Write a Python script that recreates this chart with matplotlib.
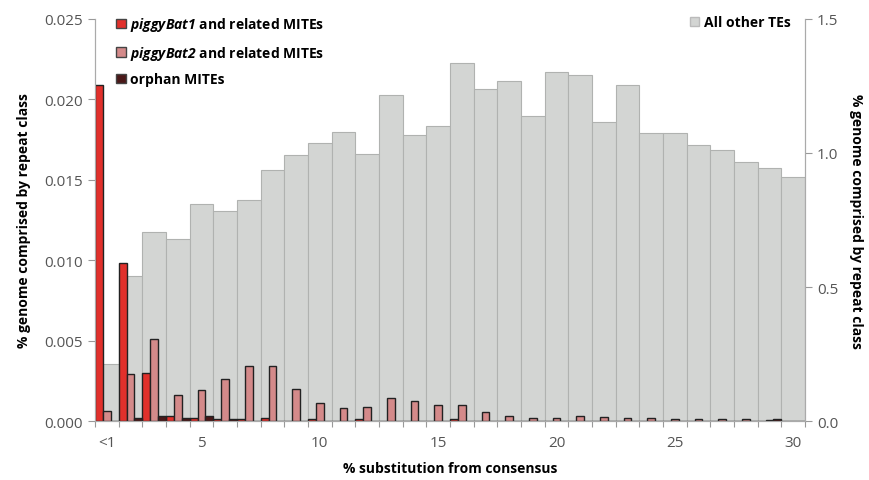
import numpy as np
import matplotlib
matplotlib.use("Agg")
import matplotlib.pyplot as plt
from matplotlib.patches import Patch

plt.rcParams['font.family'] = ['Open Sans', 'DejaVu Sans']
plt.rcParams['mathtext.fontset'] = 'custom'
plt.rcParams['mathtext.it'] = 'Open Sans:italic:bold'
plt.rcParams['mathtext.rm'] = 'Open Sans:italic:bold'

# substitution bins: "<1", 2, 3, ... 30
bins = list(range(1, 31))
tick_labels = {1: '<1', 5: '5', 10: '10', 15: '15', 20: '20', 25: '25', 30: '30'}

# % genome, left axis
piggybat1 = [0.0209, 0.0098, 0.0030, 0.0003, 0.0002, 0.0001, 0.0001, 0.0002, 0.0,
             0.0001, 0.0, 0.0001, 0.0, 0.0, 0.0, 0.0001, 0.0, 0.0, 0.0, 0.0,
             0.0, 0.0, 0.0, 0.0, 0.0, 0.0, 0.0, 0.0, 0.0, 0.0]
piggybat2 = [0.00065, 0.0029, 0.0051, 0.0016, 0.0019, 0.0026, 0.0034, 0.0034, 0.0020,
             0.0011, 0.0008, 0.00085, 0.0014, 0.00126, 0.0010, 0.0010, 0.00054, 0.0003,
             0.0002, 0.0002, 0.0003, 0.00025, 0.0002, 0.0002, 0.0001, 0.0001, 0.0001,
             0.0001, 0.00005, 0.0]
orphan = [0.0, 0.0002, 0.0003, 0.0002, 0.0003, 0.0001, 0.0, 0.0, 0.0, 0.0,
          0.0, 0.0, 0.0, 0.0, 0.0, 0.0, 0.0, 0.0, 0.0, 0.0,
          0.0, 0.0, 0.0, 0.0, 0.0, 0.0, 0.0, 0.0, 0.0001, 0.0]

# % genome, right axis
other_tes = [0.212, 0.541, 0.705, 0.679, 0.811, 0.784, 0.826, 0.938, 0.994, 1.037,
             1.077, 0.996, 1.217, 1.068, 1.102, 1.337, 1.238, 1.268, 1.139, 1.303,
             1.290, 1.114, 1.253, 1.073, 1.073, 1.031, 1.010, 0.968, 0.945, 0.911]

red = '#e1302b'
pink = '#d48a8a'
dark = '#4a1818'
gray = '#d3d5d3'

x = np.arange(len(bins))
w = 1.0 / 3

fig = plt.figure(figsize=(8.7, 4.81), dpi=100)
ax = fig.add_axes([95 / 870, 1 - 422 / 481, 710 / 870, 402 / 481])
ax2 = ax.twinx()

ax2.bar(x, other_tes, width=1.0, color=gray, edgecolor='#b0b2b0', linewidth=0.8)
ax.bar(x - w, piggybat1, width=w, color=red, edgecolor='#222222', linewidth=1.0)
ax.bar(x, piggybat2, width=w, color=pink, edgecolor='#222222', linewidth=1.0)
ax.bar(x + w, orphan, width=w, color=dark, edgecolor='#222222', linewidth=1.0)

ax.set_zorder(ax2.get_zorder() + 1)
ax.patch.set_visible(False)

ax.set_xlim(-0.5, len(bins) - 0.5)
ax.set_ylim(0, 0.025)
ax2.set_ylim(0, 1.5)

ax.set_yticks(np.arange(0, 0.0251, 0.005))
ax.set_yticklabels(['%.3f' % v for v in np.arange(0, 0.0251, 0.005)])
ax2.set_yticks([0, 0.5, 1.0, 1.5])
ax2.set_yticklabels(['0.0', '0.5', '1.0', '1.5'])

# tick marks at bin edges, labels at bin centres
ax.set_xticks(np.arange(-0.5, len(bins), 1.0))
ax.set_xticklabels([])
pos = [bins.index(b) for b in tick_labels]
ax.set_xticks(pos, minor=True)
ax.set_xticklabels(list(tick_labels.values()), minor=True)
ax.tick_params(axis='x', which='major', length=4, color='#999999')
ax.tick_params(axis='x', which='minor', length=0, pad=10, labelsize=11, labelcolor='#555555')

for a in (ax, ax2):
    a.tick_params(axis='y', length=5, color='#999999', labelsize=11, labelcolor='#555555')
    for s in a.spines.values():
        s.set_color('#aaaaaa')
    a.spines['top'].set_visible(False)

ax.set_xlabel('% substitution from consensus', fontsize=10, fontweight='bold', labelpad=8)
ax.set_ylabel('% genome comprised by repeat class', fontsize=10, fontweight='bold', labelpad=10)
ax2.set_ylabel('% genome comprised by repeat class', fontsize=10, fontweight='bold',
               rotation=270, labelpad=18)

handles = [Patch(facecolor=red, edgecolor='#444444'),
           Patch(facecolor=pink, edgecolor='#444444'),
           Patch(facecolor=dark, edgecolor='#444444')]
labels = [r'$\it{piggyBat1}$ and related MITEs',
          r'$\it{piggyBat2}$ and related MITEs',
          'orphan MITEs']
leg = ax.legend(handles, labels, loc='upper left', bbox_to_anchor=(0.012, 1.04),
                frameon=False, handlelength=0.7, handleheight=0.7, handletextpad=0.3,
                labelspacing=0.75, prop={'size': 10, 'weight': 'bold'})

leg2 = ax2.legend([Patch(facecolor=gray, edgecolor='#bbbbbb')], ['All other TEs'],
                  loc='upper right', bbox_to_anchor=(0.997, 1.04), frameon=False,
                  handlelength=0.7, handleheight=0.7, handletextpad=0.3,
                  prop={'size': 10, 'weight': 'bold'})

fig.savefig('out.png', dpi=100)
